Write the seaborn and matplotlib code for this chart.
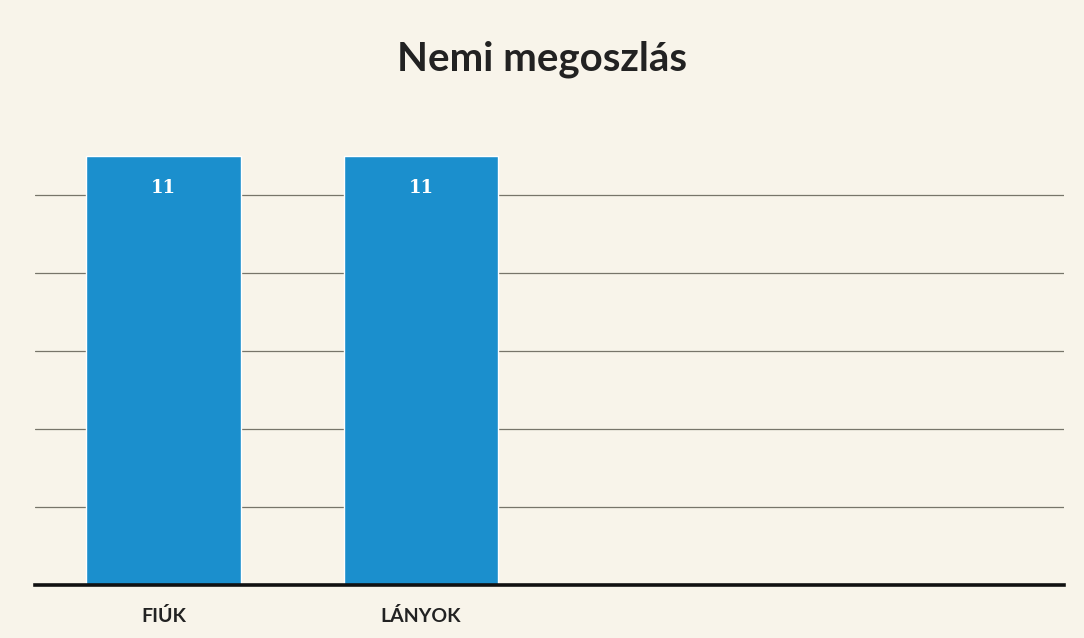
import matplotlib
matplotlib.use("Agg")
import matplotlib.pyplot as plt
import seaborn as sns
import pandas as pd

categories = ["FIÚK", "LÁNYOK"]
values = [11, 11]
title = "Nemi megoszlás"
grid_ticks = [2, 4, 6, 8, 10]

sns.set_theme(style="white")
plt.rcParams['font.family'] = ['Lato', 'DejaVu Sans']

bg = "#f8f4ea"
fig = plt.figure(figsize=(10.84, 6.38), dpi=100, facecolor=bg)
ax = fig.add_axes([0.032, 0.083, 0.950, 0.734])
ax.set_facecolor(bg)

df = pd.DataFrame({"cat": categories, "val": values})
sns.barplot(data=df, x="cat", y="val", color="#1b8fcd", saturation=1, width=0.6, ax=ax)

ax.set_xlim(-0.5, 3.5)
ax.set_ylim(0, 12)
ax.set_yticks(grid_ticks)
ax.yaxis.grid(True, color="#77756a", linewidth=0.9)
ax.set_axisbelow(True)
ax.tick_params(axis="y", left=False, labelleft=False)
ax.tick_params(axis="x", bottom=False, pad=10)
for lab in ax.get_xticklabels():
    lab.set_fontweight("bold")
    lab.set_fontsize(14)
    lab.set_color("#222222")
ax.set_xlabel("")
ax.set_ylabel("")
for s in ["top", "right", "left"]:
    ax.spines[s].set_visible(False)
ax.spines["bottom"].set_color("#111111")
ax.spines["bottom"].set_linewidth(2.6)

for cont in ax.containers:
    ax.bar_label(cont, labels=[str(v) for v in values], label_type="edge", padding=-30,
                 color="white", fontweight="bold", fontsize=13,
                 family=["DejaVu Serif"])

fig.text(0.5, 0.907, title, ha="center", va="center", fontsize=29,
         fontweight="bold", color="#222222")

fig.savefig("out.png", dpi=100, facecolor=bg)
